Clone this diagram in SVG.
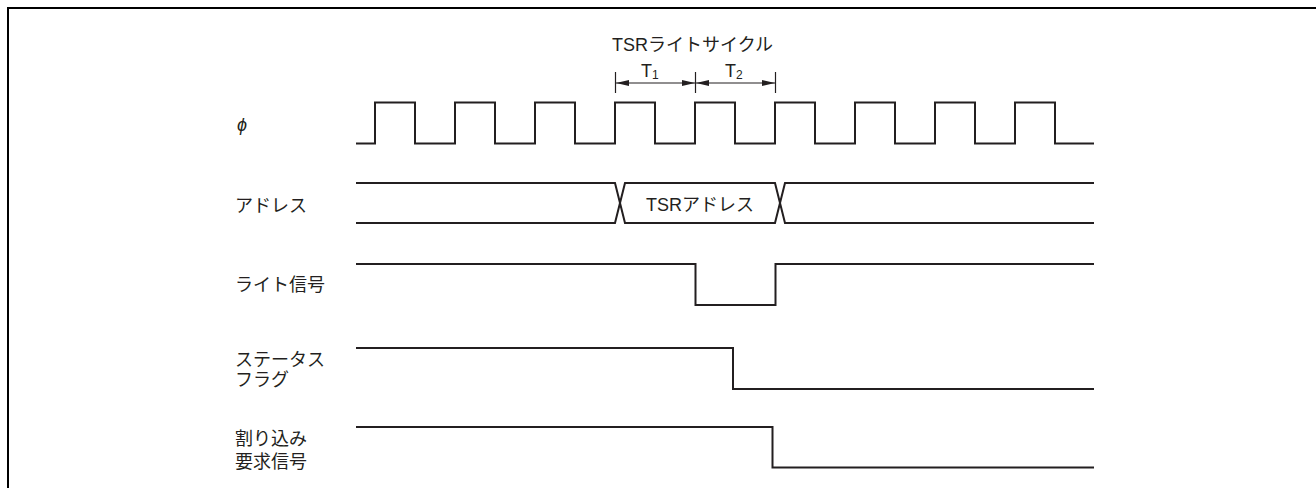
<svg xmlns="http://www.w3.org/2000/svg" width="1316" height="488" viewBox="0 0 1316 488">
<style>
.sig{fill:none;stroke:#231f20;stroke-width:2;stroke-linejoin:miter;stroke-linecap:butt}
.dim{fill:none;stroke:#231f20;stroke-width:1.2}
.lbl{font-family:"Liberation Sans","Noto Sans CJK JP",sans-serif;font-size:18px;fill:#231f20}
.sub{font-size:12px}
</style>
<defs>
<marker id="ah" viewBox="0 0 13 6" refX="13" refY="3" markerWidth="13" markerHeight="6" markerUnits="userSpaceOnUse" orient="auto-start-reverse">
<path d="M0,0 L13,3 L0,6 Z" fill="#231f20"/>
</marker>
</defs>
<rect width="1316" height="488" fill="#fff"/>
<path d="M8,492 V8 H1320" fill="none" stroke="#000" stroke-width="2"/>

<g id="title">
<text class="lbl" x="612" y="51">TSRライトサイクル</text>
<text class="lbl" x="641" y="77">T<tspan class="sub" dy="2">1</tspan></text>
<text class="lbl" x="725" y="77">T<tspan class="sub" dy="2">2</tspan></text>
</g>

<g id="clock">
<text class="lbl" x="237" y="131" font-style="italic" font-family="DejaVu Sans, sans-serif" font-size="16">ϕ</text>
<path class="sig" d="M356,143.5 H375 V102.5 H415 V143.5 H455 V102.5 H495 V143.5 H535 V102.5 H575 V143.5 H615 V102.5 H655 V143.5 H695 V102.5 H735 V143.5 H775 V102.5 H815 V143.5 H855 V102.5 H895 V143.5 H935 V102.5 H975 V143.5 H1015 V102.5 H1055 V143.5 H1094"/>
</g>

<g id="address">
<text class="lbl" x="235" y="212">アドレス</text>
<path class="sig" d="M356,183 H615 L625,223 H775 L785,183 H1094"/>
<path class="sig" d="M356,223 H615 L625,183 H775 L785,223 H1094"/>
<text class="lbl" x="700" y="211" text-anchor="middle">TSRアドレス</text>
</g>

<g id="write">
<text class="lbl" x="235" y="291">ライト信号</text>
<path class="sig" d="M356,264 H695.5 V305 H775.5 V264 H1094"/>
</g>

<g id="status">
<text class="lbl" x="235" y="366">ステータス</text>
<text class="lbl" x="235" y="386">フラグ</text>
<path class="sig" d="M356,348 H733 V389 H1094"/>
</g>

<g id="irq">
<text class="lbl" x="235" y="445">割り込み</text>
<text class="lbl" x="235" y="468">要求信号</text>
<path class="sig" d="M356,427 H772.5 V467.5 H1094"/>
</g>

<g id="connectors">
<line class="dim" x1="615.5" y1="72" x2="615.5" y2="93"/>
<line class="dim" x1="695.5" y1="72" x2="695.5" y2="93"/>
<line class="dim" x1="775.5" y1="72" x2="775.5" y2="93"/>
<line class="dim" x1="616" y1="83" x2="695" y2="83" marker-start="url(#ah)" marker-end="url(#ah)"/>
<line class="dim" x1="696" y1="83" x2="775" y2="83" marker-start="url(#ah)" marker-end="url(#ah)"/>
</g>
</svg>
